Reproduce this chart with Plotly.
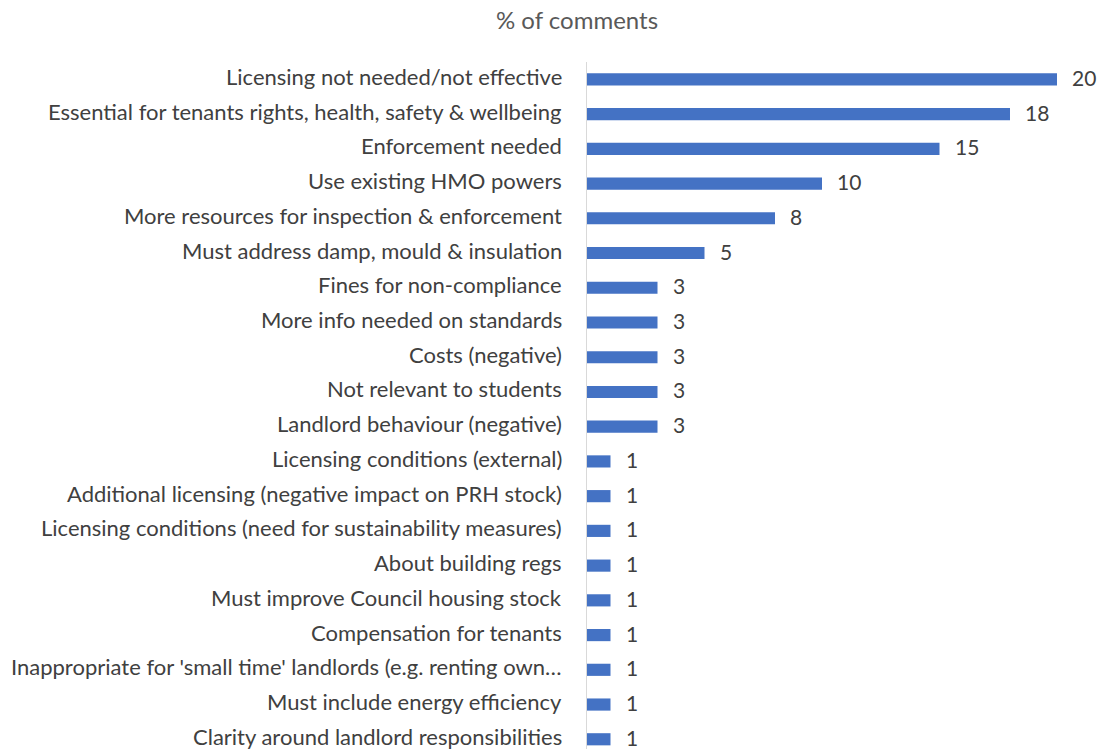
import plotly.graph_objects as go

categories = [
    "Licensing not needed/not effective",
    "Essential for tenants rights, health, safety & wellbeing",
    "Enforcement needed",
    "Use existing HMO powers",
    "More resources for inspection & enforcement ",
    "Must address damp, mould & insulation",
    "Fines for non-compliance",
    "More info needed on standards",
    "Costs (negative)",
    "Not relevant to students",
    "Landlord behaviour (negative)",
    "Licensing conditions (external) ",
    "Additional licensing (negative impact on PRH stock)",
    "Licensing conditions (need for sustainability measures)",
    "About building regs",
    "Must improve Council housing stock",
    "Compensation for tenants",
    "Inappropriate for 'small time' landlords (e.g. renting own\u2026",
    "Must include energy efficiency",
    "Clarity around landlord responsibilities",
]
values = [20, 18, 15, 10, 8, 5, 3, 3, 3, 3, 3, 1, 1, 1, 1, 1, 1, 1, 1, 1]

FONT = "Lato"
TXT = "#404040"

W, H = 1100, 749

fig = go.Figure(go.Bar(
    x=values,
    y=categories,
    orientation="h",
    marker=dict(color="#4472C4", line=dict(width=0)),
    width=0.35,
    cliponaxis=False,
))

# category labels against the y axis, and value labels at the bar ends
for cat, val in zip(categories, values):
    fig.add_annotation(
        x=0, y=cat, xref="x", yref="y",
        text=cat.rstrip(), showarrow=False,
        xanchor="right", yanchor="middle",
        xshift=-23, yshift=3,
        font=dict(family=FONT, size=22, color=TXT),
    )
    fig.add_annotation(
        x=val, y=cat, xref="x", yref="y",
        text=str(val), showarrow=False,
        xanchor="left", yanchor="middle",
        xshift=13, yshift=2,
        font=dict(family=FONT, size=21, color=TXT),
    )

fig.update_layout(
    width=W, height=H,
    paper_bgcolor="white", plot_bgcolor="white",
    margin=dict(l=587, r=0, t=62, b=0, autoexpand=False),
    title=dict(text="% of comments", x=577/W, xanchor="center",
               y=1 - 21/H, yanchor="middle",
               font=dict(family=FONT, size=24, color="#595959")),
    showlegend=False,
    xaxis=dict(range=[0, 513/23.5], showgrid=False, zeroline=False, automargin=False,
               showticklabels=False, showline=False, ticks=""),
    yaxis=dict(type="category", categoryorder="array", categoryarray=categories,
               range=[19.28, -0.5], showgrid=False, zeroline=False, automargin=False,
               showline=True, linecolor="#d9d9d9", linewidth=1, ticks="",
               showticklabels=False),
)

fig.write_html(
    "out.html",
    config={"displayModeBar": False},
    post_script="document.body.style.margin='0';document.body.style.overflow='hidden';",
)
